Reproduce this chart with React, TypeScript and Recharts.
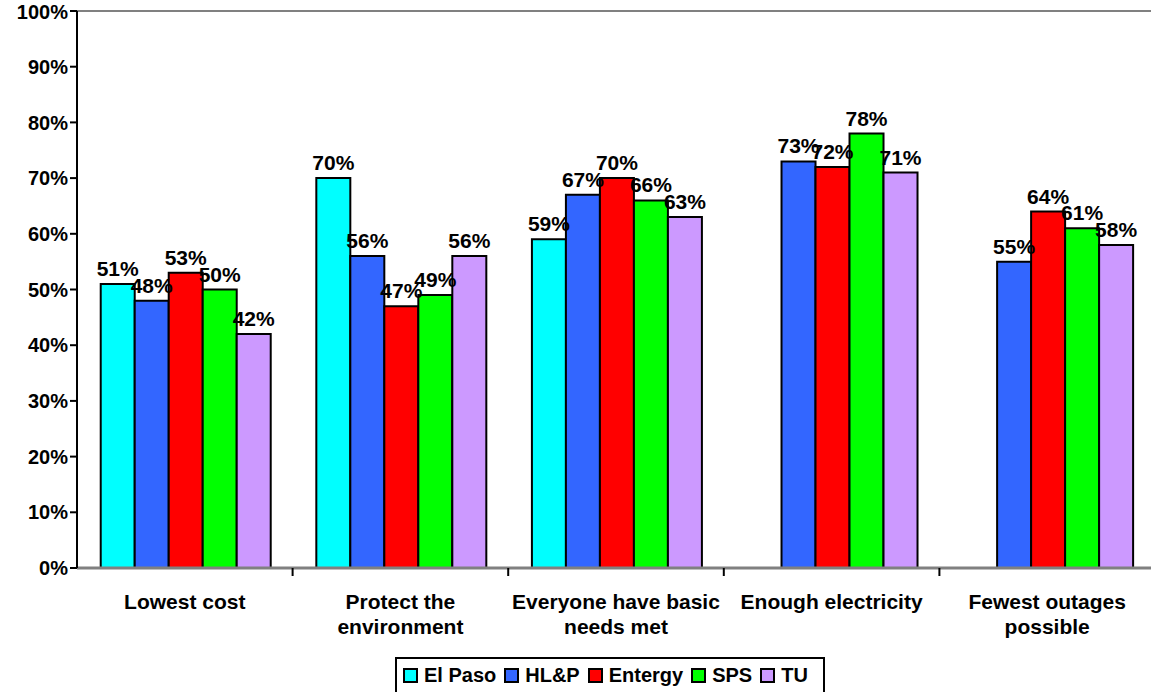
import { BarChart, Bar, XAxis, YAxis, ReferenceLine, LabelList } from 'recharts';

const categories = ['Lowest cost', 'Protect the environment', 'Everyone have basic needs met', 'Enough electricity', 'Fewest outages possible'];
const categoryLines = [['Lowest cost'], ['Protect the', 'environment'], ['Everyone have basic', 'needs met'], ['Enough electricity'], ['Fewest outages', 'possible']];

const elPaso = [51, 70, 59, null, null];
const hlp = [48, 56, 67, 73, 55];
const entergy = [53, 47, 70, 72, 64];
const sps = [50, 49, 66, 78, 61];
const tu = [42, 56, 63, 71, 58];

const yTicks = [0, 10, 20, 30, 40, 50, 60, 70, 80, 90, 100];

const series = [
  { key: 'elPaso', name: 'El Paso', color: '#00FFFF', values: elPaso },
  { key: 'hlp', name: 'HL&P', color: '#3366FF', values: hlp },
  { key: 'entergy', name: 'Entergy', color: '#FF0000', values: entergy },
  { key: 'sps', name: 'SPS', color: '#00FF00', values: sps },
  { key: 'tu', name: 'TU', color: '#CC99FF', values: tu },
];

const data = categories.map((c, i) => {
  const row: any = { category: c };
  series.forEach((s) => {
    row[s.key] = s.values[i];
  });
  return row;
});

const font = '"Liberation Sans", Arial, sans-serif';

// category label plus the little tick mark on the boundary to its left
function CategoryTick({ x, y, payload, index, width, visibleTicksCount }: any) {
  const lines = categoryLines[index] || [payload.value];
  const axisY = y - 8;
  const band = width / visibleTicksCount;
  return (
    <g>
      {index > 0 && (
        <line x1={x - band / 2} x2={x - band / 2} y1={axisY} y2={axisY + 8} stroke="#000" strokeWidth={2} />
      )}
      {lines.map((l: string, i: number) => (
        <text
          key={i}
          x={x}
          y={y + 33 + i * 25}
          textAnchor="middle"
          fontFamily={font}
          fontWeight="bold"
          fontSize={21}
          fill="#000"
        >
          {l}
        </text>
      ))}
    </g>
  );
}

export default function App() {
  return (
    <div style={{ position: 'absolute', left: 0, top: 0, width: 1151, height: 692, overflow: 'hidden', background: '#fff' }}>
      <BarChart
        width={1160}
        height={700}
        data={data}
        margin={{ top: 11, right: 5, left: 0, bottom: 42 }}
        barCategoryGap="11%"
        barGap={0}
      >
        <XAxis
          dataKey="category"
          axisLine={{ stroke: '#808080', strokeWidth: 3 }}
          tickLine={false}
          tickSize={6}
          tickMargin={2}
          tick={<CategoryTick />}
          interval={0}
          height={90}
        />
        <YAxis
          domain={[0, 100]}
          ticks={yTicks}
          width={77}
          tickFormatter={(v) => `${v}%`}
          axisLine={{ stroke: '#000', strokeWidth: 2 }}
          tickLine={{ stroke: '#000', strokeWidth: 2 }}
          tickSize={7}
          tick={{ fill: '#000', fontFamily: font, fontWeight: 'bold', fontSize: 20 }}
        />
        <ReferenceLine y={100} stroke="#808080" strokeWidth={2} />
        {series.map((s) => (
          <Bar
            key={s.key}
            dataKey={s.key}
            name={s.name}
            fill={s.color}
            stroke="#000"
            strokeWidth={2}
            isAnimationActive={false}
          >
            <LabelList
              dataKey={s.key}
              position="top"
              offset={8}
              formatter={(v: any) => (v == null ? '' : `${v}%`)}
              style={{ fill: '#000', fontFamily: font, fontWeight: 'bold', fontSize: 21 }}
            />
          </Bar>
        ))}
      </BarChart>
      <div
        style={{
          position: 'absolute',
          left: 395,
          top: 657,
          width: 430,
          height: 40,
          border: '2px solid #000',
          boxSizing: 'border-box',
          display: 'flex',
          alignItems: 'flex-start',
          paddingLeft: 6,
          paddingTop: 5,
          fontFamily: font,
          fontWeight: 'bold',
          fontSize: 20,
          color: '#000',
        }}
      >
        {series.map((s) => (
          <div key={s.key} style={{ display: 'flex', alignItems: 'center', marginRight: 8 }}>
            <span
              style={{
                display: 'inline-block',
                width: 11,
                height: 11,
                background: s.color,
                border: '2px solid #000',
                marginRight: 6,
              }}
            />
            <span>{s.name}</span>
          </div>
        ))}
      </div>
    </div>
  );
}
